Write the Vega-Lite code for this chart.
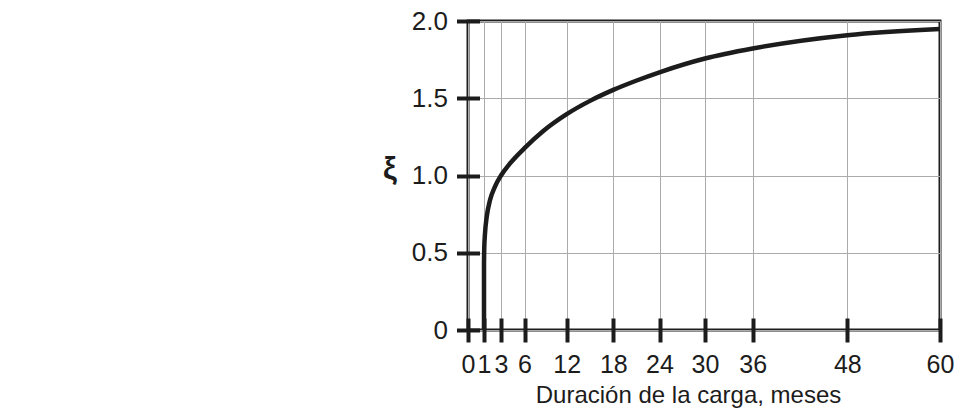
{
  "$schema": "https://vega.github.io/schema/vega-lite/v6.json",
  "width": 472,
  "height": 309,
  "autosize": {"type": "none"},
  "padding": {"left": 468, "top": 21, "right": 27, "bottom": 79},
  "background": "white",
  "config": {
    "view": {"stroke": "#1e1e1e", "strokeWidth": 3},
    "font": "Liberation Sans"
  },
  "data": {
    "values": [
      {"meses": 1, "xi": 0},
      {"meses": 1, "xi": 0.42},
      {"meses": 1.03, "xi": 0.53},
      {"meses": 1.12, "xi": 0.626},
      {"meses": 1.32, "xi": 0.733},
      {"meses": 1.71, "xi": 0.841},
      {"meses": 2.29, "xi": 0.928},
      {"meses": 3, "xi": 1.0},
      {"meses": 4.15, "xi": 1.078},
      {"meses": 6, "xi": 1.177},
      {"meses": 8.67, "xi": 1.288},
      {"meses": 12, "xi": 1.397},
      {"meses": 15, "xi": 1.483},
      {"meses": 18, "xi": 1.554},
      {"meses": 21.04, "xi": 1.615},
      {"meses": 24, "xi": 1.668},
      {"meses": 30, "xi": 1.757},
      {"meses": 36, "xi": 1.822},
      {"meses": 48, "xi": 1.908},
      {"meses": 60, "xi": 1.948}
    ]
  },
  "mark": {"type": "line", "interpolate": "monotone", "color": "#1c1c1c", "strokeWidth": 4.5, "strokeCap": "butt"},
  "encoding": {
    "x": {
      "field": "meses",
      "type": "quantitative",
      "scale": {
        "domain": [0, 1, 3, 6, 12, 18, 24, 30, 36, 48, 60],
        "range": [0, 16, 33, 56.5, 98.7, 145.3, 191.5, 237, 284.7, 379.3, 472],
        "nice": false,
        "zero": false
      },
      "axis": {
        "values": [0, 1, 3, 6, 12, 18, 24, 30, 36, 48, 60],
        "format": "d",
        "title": "Duración de la carga, meses",
        "titleX": 220,
        "titleAlign": "center",
        "domain": false,
        "offset": -12,
        "tickSize": 24,
        "tickWidth": 4,
        "tickColor": "#1c1c1c",
        "labelFont": "Liberation Sans",
        "labelFontSize": 25,
        "labelColor": "#1c1c1c",
        "labelPadding": 10,
        "labelFlush": false,
        "labelOverlap": false,
        "titleFont": "Liberation Sans",
        "titleFontSize": 24,
        "titleFontWeight": "normal",
        "titleColor": "#1c1c1c",
        "titlePadding": 6,
        "grid": true,
        "gridColor": "#ababab",
        "gridWidth": 1
      }
    },
    "y": {
      "field": "xi",
      "type": "quantitative",
      "scale": {"domain": [0, 2], "nice": false},
      "axis": {
        "values": [0, 0.5, 1, 1.5, 2],
        "labelExpr": "datum.value == 0 ? '0' : format(datum.value, '.1f')",
        "title": "ξ",
        "titleAngle": 0,
        "titleAlign": "right",
        "titleBaseline": "middle",
        "titleY": 148,
        "titleFont": "Liberation Sans",
        "titleFontSize": 31,
        "titleFontWeight": "bold",
        "titleColor": "#1c1c1c",
        "titlePadding": 15,
        "domain": false,
        "offset": -11.5,
        "tickSize": 23,
        "tickWidth": 4,
        "tickColor": "#1c1c1c",
        "labelFont": "Liberation Sans",
        "labelFontSize": 26,
        "labelColor": "#1c1c1c",
        "labelPadding": 9,
        "labelFlush": false,
        "labelOverlap": false,
        "grid": true,
        "gridColor": "#ababab",
        "gridWidth": 1
      }
    }
  }
}
